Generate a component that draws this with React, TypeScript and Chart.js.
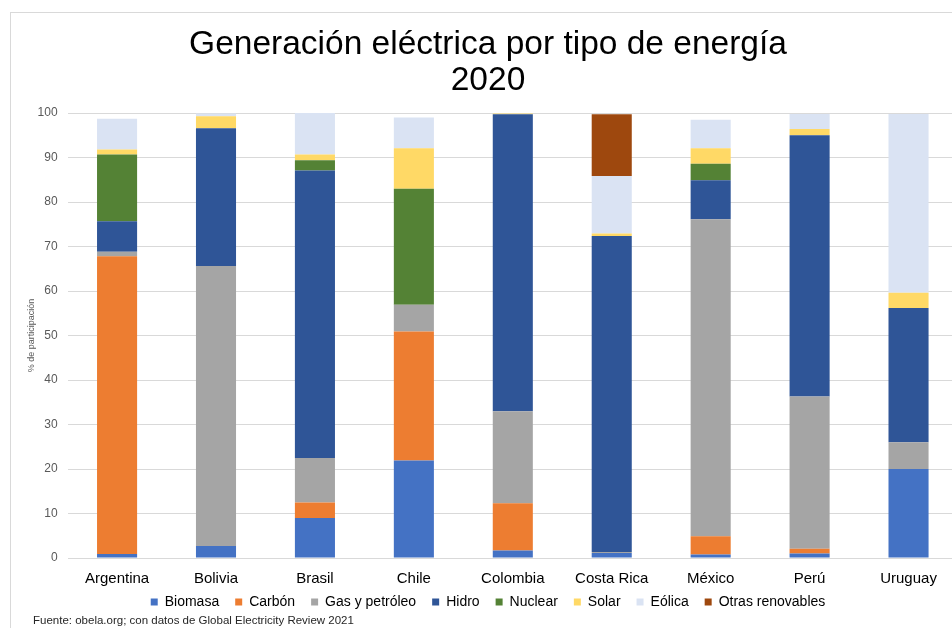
import React, { useEffect, useRef } from "react";
import { Chart, registerables } from "chart.js";

Chart.register(...registerables);

const categories = ["Argentina", "Bolivia", "Brasil", "Chile", "Colombia", "Costa Rica", "México", "Perú", "Uruguay"];
const biomasa = [0.9, 2.7, 9.0, 21.9, 1.7, 1.1, 0.8, 1.0, 20.0];
const carbon = [66.9, 0, 3.5, 29.0, 10.6, 0, 4.1, 1.1, 0];
const gas = [1.0, 62.9, 10.0, 6.0, 20.7, 0.25, 71.2, 34.2, 6.0];
const hidro = [6.9, 31.0, 64.6, 0, 66.7, 71.0, 8.8, 58.7, 30.2];
const nuclear = [15.0, 0, 2.3, 26.1, 0, 0, 3.7, 0, 0];
const solar = [1.1, 2.7, 1.3, 9.1, 0.2, 0.6, 3.5, 1.4, 3.4];
const eolica = [6.9, 0.6, 9.3, 6.9, 0.1, 12.9, 6.4, 3.4, 40.2];
const otras = [0, 0, 0, 0, 0, 13.9, 0, 0, 0];

const seriesNames = ["Biomasa", "Carbón", "Gas y petróleo", "Hidro", "Nuclear", "Solar", "Eólica", "Otras renovables"];
const seriesColors = ["#4472C4", "#ED7D31", "#A5A5A5", "#2F5597", "#548235", "#FFD966", "#DAE3F3", "#9E480E"];
const titleLines = ["Generación eléctrica por tipo de energía", "2020"];
const yTitle = "% de participación";
const footer = "Fuente: obela.org; con datos de Global Electricity Review 2021";

const FONT = "'Liberation Sans', Arial, Helvetica, sans-serif";

export default function App() {
  const ref = useRef<HTMLCanvasElement | null>(null);
  useEffect(() => {
    if (!ref.current) return;
    const seriesValues = [biomasa, carbon, gas, hidro, nuclear, solar, eolica, otras];
    const framePlugin = {
      id: "frame",
      beforeDraw(chart: any) {
        const ctx = chart.ctx;
        ctx.save();
        ctx.fillStyle = "#ffffff";
        ctx.fillRect(0, 0, chart.width, chart.height);
        ctx.strokeStyle = "#d9d9d9";
        ctx.lineWidth = 1;
        ctx.strokeRect(10.5, 12.5, chart.width - 20, chart.height + 20);
        ctx.restore();
      },
      afterDraw(chart: any) {
        const ctx = chart.ctx;
        ctx.save();
        ctx.font = `11.5px ${FONT}`;
        ctx.fillStyle = "#262626";
        ctx.textAlign = "left";
        ctx.textBaseline = "middle";
        ctx.fillText(footer, 33, chart.height - 7);
        ctx.restore();
      },
    };
    const chart = new Chart(ref.current, {
      type: "bar",
      data: {
        labels: categories,
        datasets: seriesNames.map((name, i) => ({
          label: name,
          data: seriesValues[i],
          backgroundColor: seriesColors[i],
          borderWidth: 0,
          categoryPercentage: 1,
          barPercentage: 0.405,
        })),
      },
      plugins: [framePlugin],
      options: {
        animation: false,
        responsive: false,
        maintainAspectRatio: false,
        layout: { padding: { left: 18, right: 22, top: 0, bottom: 9 } },
        plugins: {
          title: {
            display: true,
            text: titleLines,
            color: "#000000",
            font: { family: FONT, size: 33.5, weight: "normal", lineHeight: 1.075 },
            padding: { top: 27, bottom: 14 },
          },
          legend: {
            position: "bottom",
            title: {
              display: true,
              text: "",
              font: { family: FONT, size: 1, lineHeight: 1 },
              padding: { top: -12, bottom: 0 },
            },
            labels: {
              boxWidth: 7,
              boxHeight: 7,
              padding: 16,
              color: "#000000",
              font: { family: FONT, size: 14 },
            },
          },
          tooltip: { enabled: false },
        },
        scales: {
          x: {
            stacked: true,
            afterFit: (scale: any) => {
              scale.height = 32;
            },
            grid: { display: false, drawTicks: false },
            border: { display: false },
            ticks: { color: "#000000", padding: 12, font: { family: FONT, size: 15 } },
          },
          y: {
            stacked: true,
            min: 0,
            max: 100,
            afterFit: (scale: any) => {
              scale.width = 49.6;
            },
            grid: { color: "#d9d9d9", lineWidth: 1, drawTicks: false },
            border: { display: false },
            ticks: { stepSize: 10, color: "#595959", padding: 10, font: { family: FONT, size: 12 } },
            title: {
              display: true,
              text: yTitle,
              color: "#595959",
              font: { family: FONT, size: 9 },
              padding: { top: 8, bottom: 0 },
            },
          },
        },
      },
    });
    return () => chart.destroy();
  }, []);
  return (
    <div style={{ position: "fixed", left: 0, top: 0, width: 952, height: 628, overflow: "hidden", background: "#fff" }}>
      <canvas ref={ref} width={980} height={628} style={{ display: "block", width: 980, height: 628 }} />
    </div>
  );
}
